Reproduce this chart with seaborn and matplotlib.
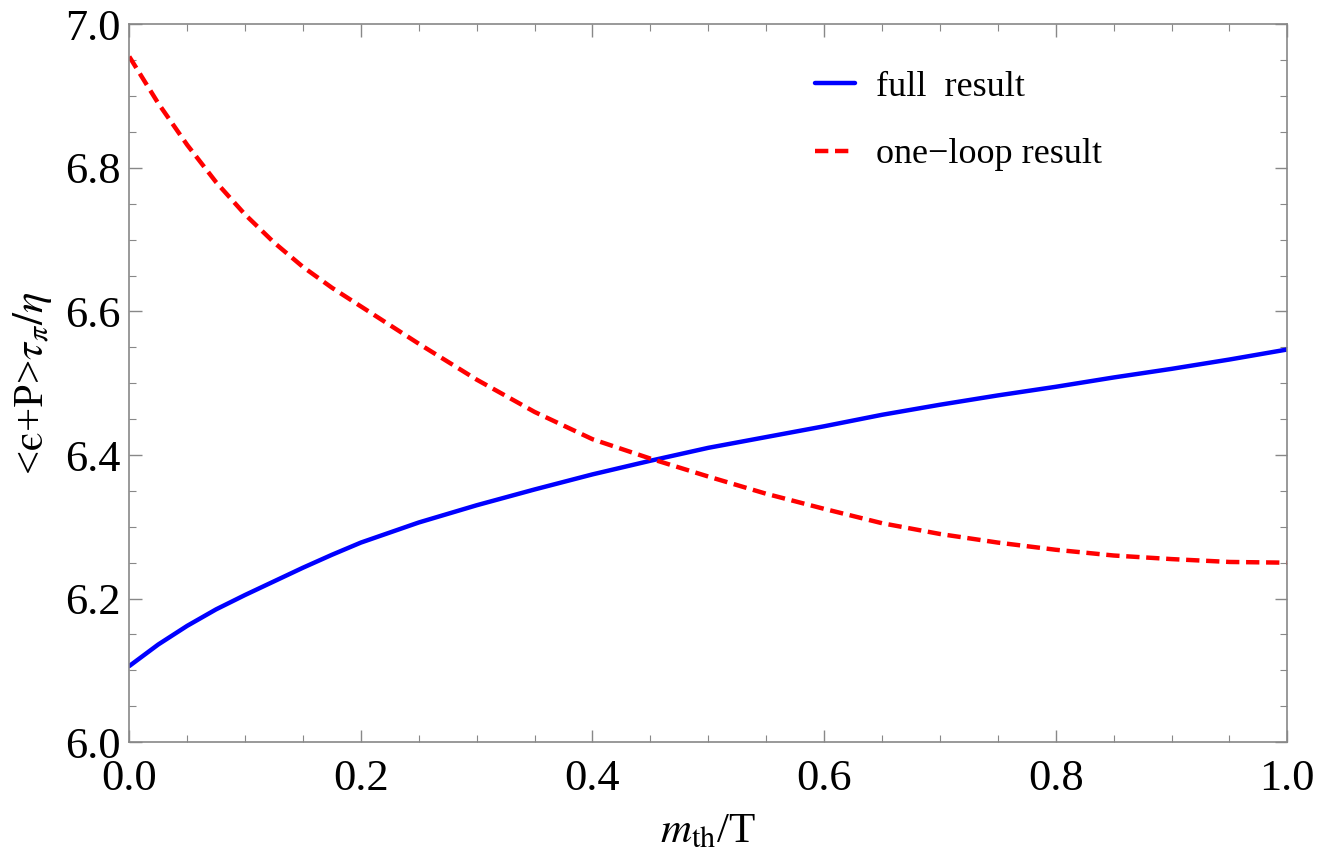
import numpy as np
import pandas as pd
import matplotlib
matplotlib.use('Agg')
import matplotlib.pyplot as plt
import seaborn as sns
from matplotlib.ticker import MultipleLocator, FormatStrFormatter

# values
m_over_T = [0.0, 0.025, 0.05, 0.075, 0.1, 0.125, 0.15, 0.175, 0.2, 0.25, 0.3, 0.35, 0.4,
            0.45, 0.5, 0.55, 0.6, 0.65, 0.7, 0.75, 0.8, 0.85, 0.9, 0.95, 1.0]
full_result = [6.106, 6.136, 6.162, 6.185, 6.205, 6.224, 6.243, 6.261, 6.278, 6.306, 6.33,
               6.352, 6.373, 6.392, 6.41, 6.425, 6.44, 6.456, 6.47, 6.483, 6.495, 6.508,
               6.52, 6.533, 6.547]
one_loop = [6.955, 6.89, 6.832, 6.78, 6.735, 6.696, 6.662, 6.633, 6.607, 6.555, 6.505,
            6.46, 6.422, 6.395, 6.37, 6.346, 6.325, 6.305, 6.29, 6.278, 6.268, 6.26,
            6.255, 6.251, 6.25]
labels = ['full  result', 'one\u2212loop result']

df = pd.concat([
    pd.DataFrame({'x': m_over_T, 'y': full_result, 'curve': labels[0]}),
    pd.DataFrame({'x': m_over_T, 'y': one_loop, 'curve': labels[1]}),
])

sns.set_style('ticks')
plt.rcParams['font.family'] = ['Liberation Serif', 'DejaVu Serif']
plt.rcParams['mathtext.fontset'] = 'stix'
plt.rcParams['text.color'] = 'black'
plt.rcParams['axes.labelcolor'] = 'black'

fig, ax = plt.subplots(figsize=(13.19, 8.67), dpi=100)
sns.lineplot(data=df, x='x', y='y', hue='curve', style='curve',
             palette={labels[0]: 'blue', labels[1]: 'red'},
             dashes={labels[0]: '', labels[1]: (3, 1.5)},
             linewidth=3.2, ax=ax)

ax.set_xlim(0, 1)
ax.set_ylim(6.0, 7.0)
ax.xaxis.set_major_locator(MultipleLocator(0.2))
ax.xaxis.set_minor_locator(MultipleLocator(0.05))
ax.yaxis.set_major_locator(MultipleLocator(0.2))
ax.yaxis.set_minor_locator(MultipleLocator(0.05))
ax.xaxis.set_major_formatter(FormatStrFormatter('%.1f'))
ax.yaxis.set_major_formatter(FormatStrFormatter('%.1f'))
ax.tick_params(which='both', direction='in', top=True, right=True, color='#888888',
               labelcolor='black')
ax.tick_params(which='major', length=9, width=1, labelsize=32)
ax.tick_params(which='minor', length=5, width=0.8)
ax.tick_params(axis='x', which='major', pad=12)
ax.tick_params(axis='y', which='major', pad=6)
for s in ax.spines.values():
    s.set_color('#888888')
    s.set_linewidth(1.2)

ax.set_xlabel(r'$m_{\rm th}$/T', fontsize=31, labelpad=10)
ax.set_ylabel('<$\\mathrm{\u03f5}$+P>$\\tau_\\pi/\\eta$', fontsize=31, labelpad=8)

leg = ax.legend(loc='upper left', bbox_to_anchor=(0.564, 0.981), frameon=False,
                fontsize=26, handlelength=1.1, labelspacing=0.95, handletextpad=0.6)
for t in leg.get_texts():
    t.set_color('black')

fig.subplots_adjust(left=0.098, right=0.976, top=0.972, bottom=0.144)
fig.savefig('out.png', dpi=100)
